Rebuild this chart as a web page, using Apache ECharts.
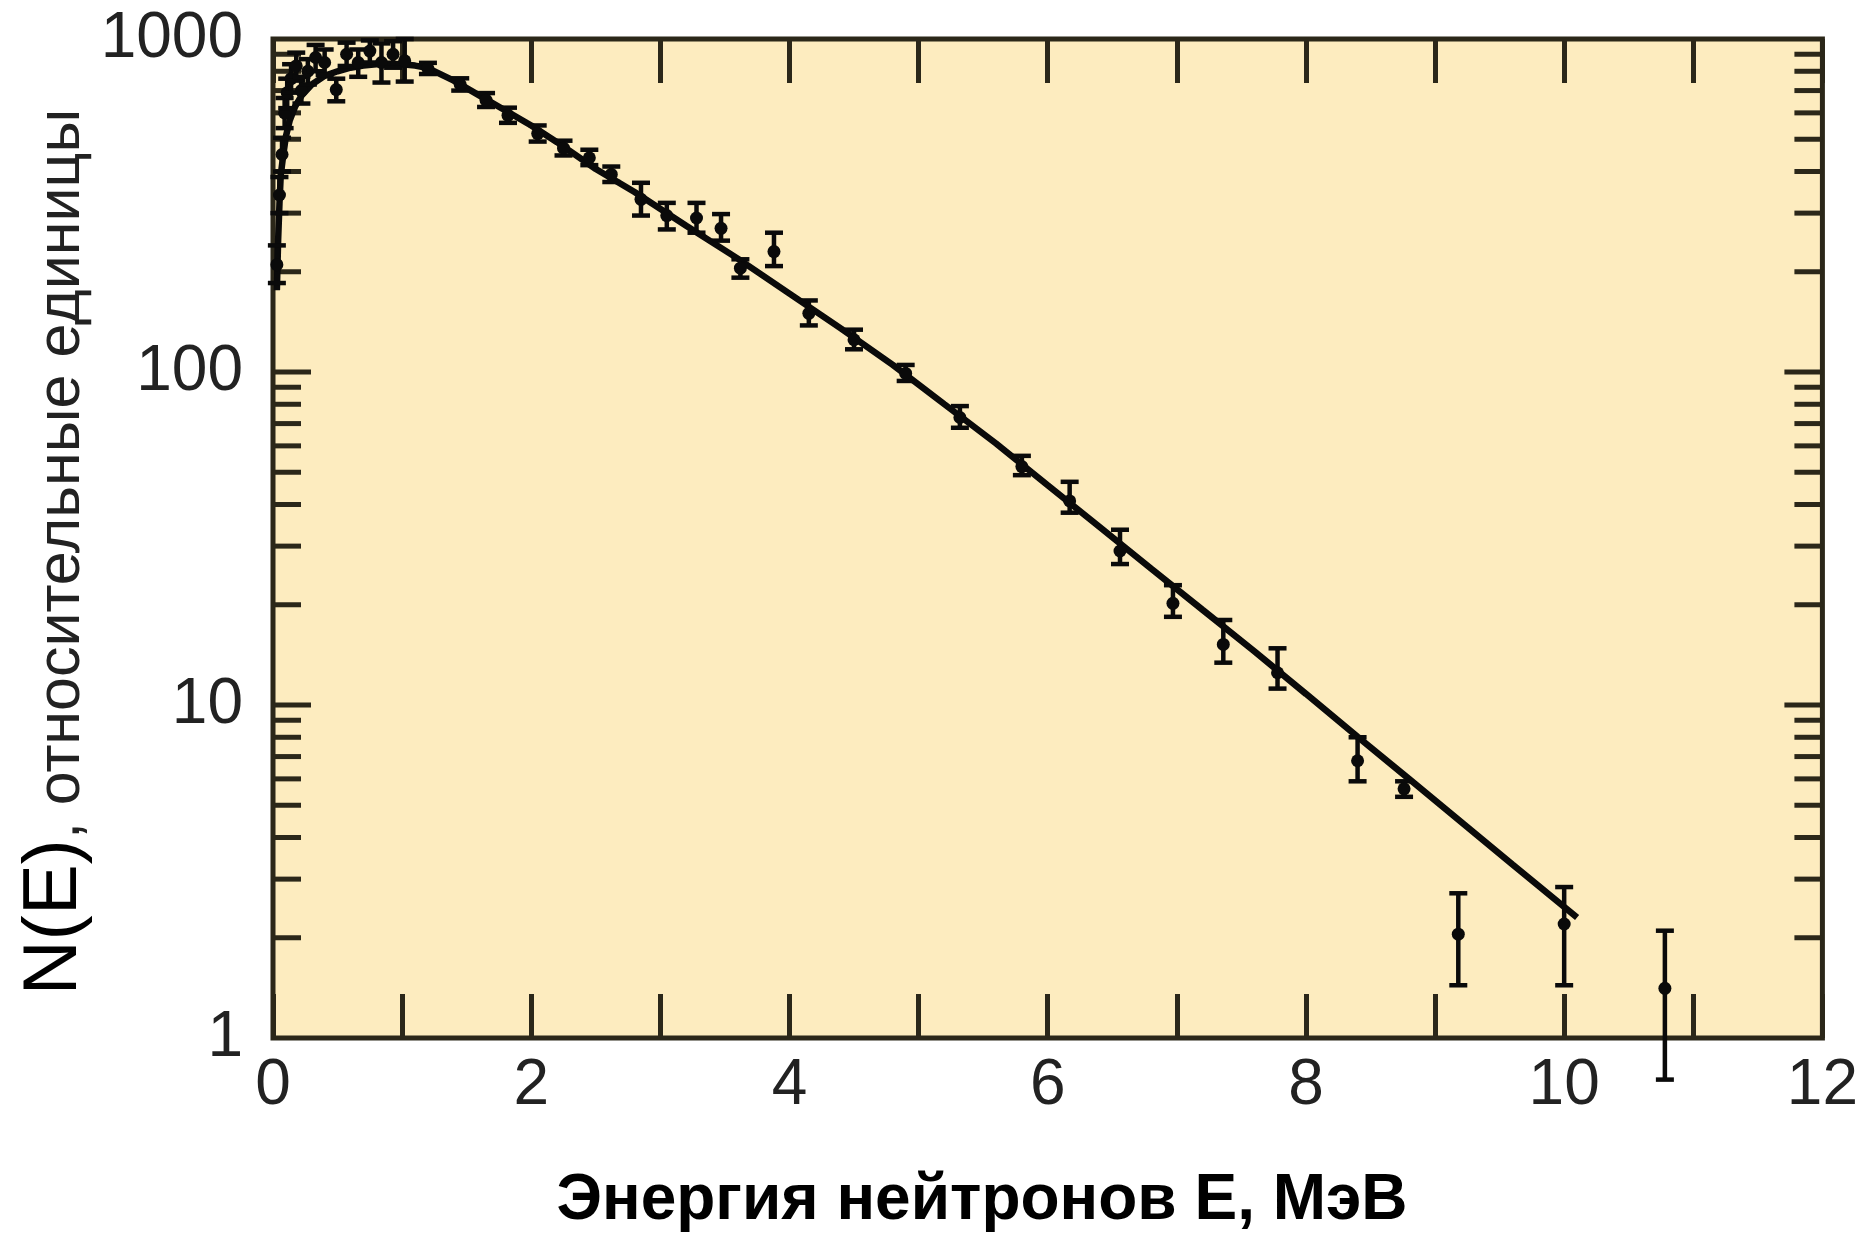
<!DOCTYPE html>
<html>
<head>
<meta charset="utf-8">
<style>
  html, body { margin: 0; padding: 0; background: #ffffff; }
  #chart { width: 1861px; height: 1235px; }
</style>
<script src="https://cdn.jsdelivr.net/npm/echarts@6/dist/echarts.min.js"></script>
</head>
<body>
<div id="chart"></div>
<script>
// ---- fitted spectrum curve ----
const curveE = [0.03, 0.04, 0.05, 0.06, 0.08, 0.1, 0.13, 0.17, 0.22, 0.3, 0.4, 0.5, 0.6, 0.7, 0.8, 0.9, 1.0, 1.1, 1.2, 1.4, 1.6, 1.8, 2.0, 2.2, 2.5, 2.8, 3.2, 3.6, 4.0, 4.4, 4.8, 5.2, 5.6, 6.0, 6.4, 6.8, 7.2, 7.6, 8.0, 8.4, 8.8, 9.2, 9.6, 10.1];
const curveN = [176, 250, 320, 390, 450, 510, 570, 625, 675, 730, 775, 800, 820, 832, 840, 842, 840, 832, 818, 750, 676, 610, 550, 490, 407, 347, 275, 219, 172, 135, 105, 80, 61, 45.7, 34.3, 25.7, 19.3, 14.5, 10.8, 8.03, 5.99, 4.46, 3.32, 2.3];

// ---- measured points with error bars ----
const ptE  = [0.03, 0.05, 0.07, 0.09, 0.11, 0.14, 0.18, 0.22, 0.27, 0.33, 0.4, 0.49, 0.57, 0.66, 0.75, 0.84, 0.93, 1.02,
              1.2, 1.45, 1.65, 1.82, 2.05, 2.25, 2.45, 2.62, 2.85, 3.05, 3.28, 3.47, 3.62, 3.88, 4.15, 4.5, 4.9, 5.32, 5.8,
              6.17, 6.56, 6.97, 7.36, 7.78, 8.4, 8.76, 9.18, 10.0, 10.78];
const ptN  = [210, 340, 450, 600, 690, 760, 830, 700, 800, 880, 850, 705, 900, 850, 920, 850, 900, 860,
              815, 730, 655, 590, 520, 470, 440, 392, 330, 295, 290, 270, 205, 230, 150, 125, 99, 73, 52,
              41, 29, 20.2, 15.2, 12.5, 6.8, 5.6, 2.05, 2.2, 1.41];
const ptLo = [185, 300, 400, 540, 620, 690, 750, 640, 730, 800, 780, 650, 830, 770, 850, 740, 820, 745,
              785, 700, 625, 560, 492, 447, 418, 372, 295, 268, 262, 248, 192, 208, 138, 117, 94, 68, 49,
              37.8, 26.5, 18.4, 13.4, 11.2, 5.9, 5.3, 1.44, 1.44, 0.75];
const ptHi = [240, 385, 505, 665, 760, 840, 910, 770, 870, 960, 930, 760, 975, 930, 990, 970, 985, 1000,
              848, 762, 688, 622, 550, 495, 465, 414, 370, 322, 322, 298, 218, 262, 164, 134, 105, 79, 56,
              46.8, 33.6, 22.9, 18, 14.8, 8.0, 5.9, 2.72, 2.84, 2.1];

// ---- ticks ----
const xTickLabels = ['0', '2', '4', '6', '8', '10', '12'];
const yTickLabels = ['1', '10', '100', '1000'];
const yMajorTicks = [10, 100];
const yMinorTicks = [2, 3, 4, 5, 6, 7, 8, 9, 20, 30, 40, 50, 60, 70, 80, 90, 200, 300, 400, 500, 600, 700, 800, 900];

const INK = '#2b2719';
const FONT = '"Liberation Sans", Arial, sans-serif';

const chart = echarts.init(document.getElementById('chart'), null, { renderer: 'canvas' });

const curveData = curveE.map((e, i) => [e, curveN[i]]);
const pointData = ptE.map((e, i) => [e, ptN[i], ptLo[i], ptHi[i]]);
const yTickData = yMajorTicks.map(v => [0, v, 38]).concat(yMinorTicks.map(v => [0, v, 28]));

function xFmt(v) {
  const s = String(Math.round(v));
  return xTickLabels.indexOf(s) >= 0 && Math.abs(v - Math.round(v)) < 1e-6 ? s : '';
}
function yFmt(v) {
  const s = String(Math.round(v));
  return yTickLabels.indexOf(s) >= 0 ? s : '';
}

const option = {
  animation: false,
  backgroundColor: '#ffffff',
  grid: {
    left: 273, right: 38, top: 39, bottom: 197,
    show: true,
    backgroundColor: '#FDECBF',
    borderColor: INK,
    borderWidth: 5
  },
  xAxis: [
    {
      type: 'value', position: 'bottom', min: 0, max: 12, interval: 1,
      axisLine: { show: false },
      axisTick: { show: true, inside: true, length: 44, lineStyle: { color: INK, width: 5 } },
      axisLabel: { formatter: xFmt, fontSize: 64, fontFamily: FONT, color: '#222', margin: 16 },
      splitLine: { show: false }
    },
    {
      type: 'value', position: 'top', min: 0, max: 12, interval: 1,
      axisLine: { show: false },
      axisTick: { show: true, inside: true, length: 44, lineStyle: { color: INK, width: 5 } },
      axisLabel: { show: false },
      splitLine: { show: false }
    }
  ],
  yAxis: [
    {
      type: 'log', logBase: 10, min: 1, max: 1000, splitNumber: 3, position: 'left',
      axisLine: { show: false },
      axisTick: { show: false },
      minorTick: { show: false },
      axisLabel: { formatter: yFmt, fontSize: 64, fontFamily: FONT, color: '#222', margin: 30 },
      splitLine: { show: false }
    }
  ],
  graphic: [
    {
      type: 'text',
      x: 982, y: 1201,
      style: {
        text: 'Энергия нейтронов Е, МэВ',
        font: 'bold 64px ' + FONT,
        fill: '#000',
        align: 'center',
        verticalAlign: 'middle'
      }
    },
    {
      type: 'text',
      x: 53, y: 552,
      rotation: Math.PI / 2,
      style: {
        text: '{a|N(E)}{b|, относительные единицы}',
        align: 'center',
        verticalAlign: 'middle',
        fill: '#000',
        rich: {
          a: { font: '76px ' + FONT, fill: '#000', lineHeight: 80, verticalAlign: 'bottom' },
          b: { font: '61px ' + FONT, fill: '#222', lineHeight: 80, verticalAlign: 'bottom' }
        }
      }
    }
  ],
  series: [
    {
      type: 'custom',
      name: 'yTicks',
      xAxisIndex: 0, yAxisIndex: 0,
      data: yTickData,
      encode: { x: 0, y: 1 },
      z: 3,
      renderItem: function (params, api) {
        const cs = params.coordSys;
        const y = api.coord([0, api.value(1)])[1];
        const len = api.value(2);
        const st = { stroke: INK, lineWidth: 5 };
        return {
          type: 'group',
          children: [
            { type: 'line', shape: { x1: cs.x, y1: y, x2: cs.x + len, y2: y }, style: st },
            { type: 'line', shape: { x1: cs.x + cs.width - len, y1: y, x2: cs.x + cs.width, y2: y }, style: st }
          ]
        };
      }
    },
    {
      type: 'line',
      name: 'fit',
      data: curveData,
      showSymbol: false,
      smooth: false,
      lineStyle: { color: '#0a0a0a', width: 6.5 },
      z: 4
    },
    {
      type: 'custom',
      name: 'points',
      data: pointData,
      encode: { x: 0, y: [1, 2, 3] },
      clip: false,
      z: 5,
      renderItem: function (params, api) {
        const e = api.value(0);
        const p = api.coord([e, api.value(1)]);
        const lo = api.coord([e, api.value(2)]);
        const hi = api.coord([e, api.value(3)]);
        const cap = 9;
        const st = { stroke: '#0a0a0a', lineWidth: 4.5 };
        return {
          type: 'group',
          children: [
            { type: 'line', shape: { x1: p[0], y1: hi[1], x2: p[0], y2: lo[1] }, style: st },
            { type: 'line', shape: { x1: p[0] - cap, y1: hi[1], x2: p[0] + cap, y2: hi[1] }, style: st },
            { type: 'line', shape: { x1: p[0] - cap, y1: lo[1], x2: p[0] + cap, y2: lo[1] }, style: st },
            { type: 'circle', shape: { cx: p[0], cy: p[1], r: 6.5 }, style: { fill: '#0a0a0a' } }
          ]
        };
      }
    }
  ]
};

chart.setOption(option);
</script>
</body>
</html>
